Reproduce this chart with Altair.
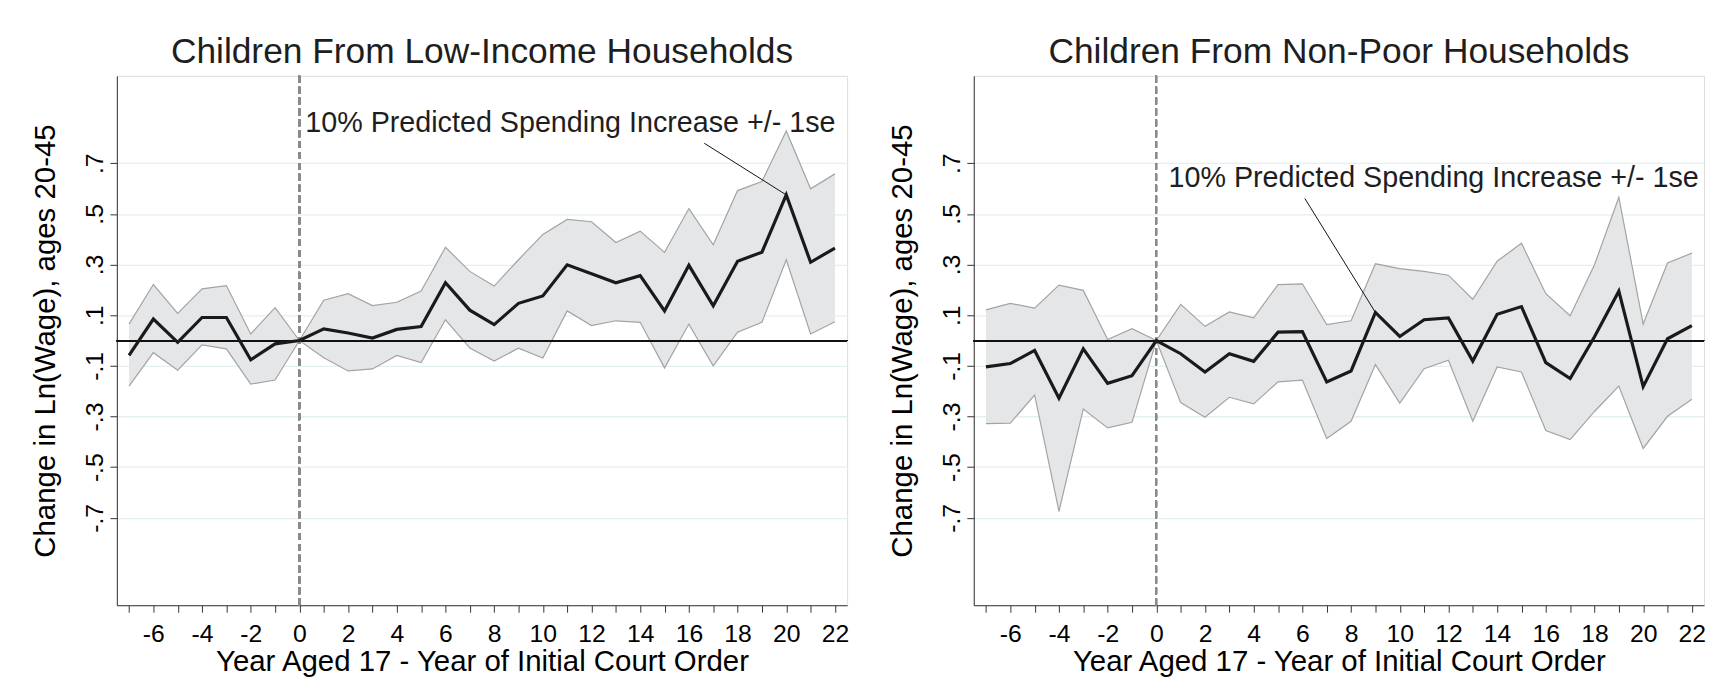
import altair as alt
import pandas as pd

# year aged 17 minus year of initial court order
years = list(range(-7, 23))

# children from low-income households
low_mean = [-0.059, 0.085, -0.007, 0.091, 0.091, -0.076, -0.013, 0.0, 0.046, 0.030,
            0.010, 0.044, 0.055, 0.228, 0.120, 0.063, 0.147, 0.176, 0.299, 0.264,
            0.228, 0.256, 0.117, 0.297, 0.137, 0.313, 0.349, 0.575, 0.309, 0.365]
low_upper = [0.065, 0.221, 0.107, 0.204, 0.217, 0.026, 0.130, 0.0, 0.159, 0.185,
             0.138, 0.151, 0.195, 0.368, 0.273, 0.215, 0.319, 0.419, 0.478, 0.469,
             0.387, 0.432, 0.348, 0.521, 0.378, 0.592, 0.628, 0.827, 0.599, 0.658]
low_lower = [-0.180, -0.048, -0.117, -0.017, -0.033, -0.172, -0.156, 0.0, -0.068, -0.120,
             -0.112, -0.059, -0.087, 0.082, -0.030, -0.081, -0.030, -0.069, 0.117, 0.059,
             0.078, 0.072, -0.108, 0.065, -0.100, 0.033, 0.072, 0.319, 0.026, 0.074]

# children from non-poor households
np_mean = [-0.104, -0.091, -0.039, -0.228, -0.033, -0.169, -0.139, 0.0, -0.052, -0.124,
           -0.052, -0.082, 0.033, 0.035, -0.163, -0.120, 0.111, 0.016, 0.082, 0.089,
           -0.081, 0.104, 0.134, -0.087, -0.150, 0.015, 0.195, -0.182, 0.007, 0.059]
np_upper = [0.121, 0.147, 0.128, 0.219, 0.198, 0.004, 0.047, 0.0, 0.143, 0.056,
            0.113, 0.090, 0.221, 0.224, 0.063, 0.078, 0.303, 0.284, 0.273, 0.258,
            0.163, 0.313, 0.384, 0.185, 0.098, 0.299, 0.566, 0.065, 0.306, 0.345]
np_lower = [-0.328, -0.326, -0.215, -0.674, -0.270, -0.345, -0.323, 0.0, -0.245, -0.303,
            -0.224, -0.250, -0.163, -0.156, -0.387, -0.319, -0.095, -0.247, -0.111, -0.078,
            -0.319, -0.104, -0.124, -0.355, -0.391, -0.280, -0.180, -0.426, -0.299, -0.232]

# annotation: text anchor, leader start, leader end (data units)
ann_label = "10% Predicted Spending Increase +/- 1se"
low_ann = [0.24, 0.824, 16.63, 0.779, 20, 0.575]
np_ann = [0.50, 0.606, 6.10, 0.561, 9, 0.111]

y_ticks = [-0.7, -0.5, -0.3, -0.1, 0.1, 0.3, 0.5, 0.7]

FONT = "Liberation Sans"
W, H = 738, 535

xscale = alt.Scale(domain=[-7.5, 22.5], nice=False, zero=False)
yscale = alt.Scale(domain=[-1.045, 1.045], nice=False, zero=False)
# tickCount above the number of values so vega keeps every yearly tick
xaxis = alt.Axis(values=years, tickCount=60, grid=False, tickSize=7, tickColor="#333", domainColor="#333",
                 labelExpr="datum.value % 2 == 0 ? '' + datum.value : ''", labelOverlap=False,
                 labelFlush=False, labelFontSize=25, labelBaseline="alphabetic", labelPadding=29.5,
                 title="Year Aged 17 - Year of Initial Court Order", titleFontSize=29.7,
                 titleFontWeight="normal", titleBaseline="alphabetic", titleY=66, titleX=W / 2)
yaxis = alt.Axis(values=y_ticks, tickCount=30, grid=True, gridColor="#e4eff1", gridWidth=1.3, tickSize=7,
                 tickColor="#333", domainColor="#333",
                 labelExpr="(datum.value < 0 ? '-' : '') + '.' + round(abs(datum.value) * 10)",
                 labelAngle=270, labelAlign="center", labelBaseline="middle", labelPadding=15,
                 labelFontSize=25, labelOverlap=False, labelFlush=False,
                 title="Change in Ln(Wage), ages 20-45", titleFontSize=29.7, titleFontWeight="normal",
                 titleX=-72, titleY=H / 2, titleBaseline="middle", titleAlign="center")


def panel(title, mean, upper, lower, ann):
    df = pd.DataFrame({"year": years, "mean": mean, "upper": upper, "lower": lower})
    adf = pd.DataFrame({"tx": [ann[0]], "ty": [ann[1]], "lx": [ann[2]], "ly": [ann[3]],
                        "px": [ann[4]], "py": [ann[5]], "label": [ann_label]})
    base = alt.Chart(df)
    x = alt.X("year:Q", scale=xscale, axis=xaxis)
    band = base.mark_area(color="#e5e6e8").encode(
        x=x, y=alt.Y("upper:Q", scale=yscale, axis=yaxis), y2="lower:Q")
    up = base.mark_line(color="#a3a3a3", strokeWidth=1.2).encode(
        x=x, y=alt.Y("upper:Q", scale=yscale, axis=yaxis))
    lo = base.mark_line(color="#a3a3a3", strokeWidth=1.2).encode(
        x=x, y=alt.Y("lower:Q", scale=yscale, axis=yaxis))
    zero = alt.Chart(df).mark_rule(color="#111", strokeWidth=1.2).encode(y=alt.datum(0))
    vline = alt.Chart(df).mark_rule(color="#8a8a8a", strokeWidth=1.4, strokeDash=[7, 4]).encode(
        x=alt.datum(0))
    line = base.mark_line(color="#1a1a1a", strokeWidth=3.2).encode(
        x=x, y=alt.Y("mean:Q", scale=yscale, axis=yaxis))
    lead = alt.Chart(adf).mark_rule(color="#111", strokeWidth=1).encode(
        x=alt.X("lx:Q", scale=xscale, axis=xaxis), x2="px:Q",
        y=alt.Y("ly:Q", scale=yscale, axis=yaxis), y2="py:Q")
    txt = alt.Chart(adf).mark_text(align="left", baseline="alphabetic", fontSize=29,
                                   font=FONT, color="#1e1e1e").encode(
        x=alt.X("tx:Q", scale=xscale, axis=xaxis), y=alt.Y("ty:Q", scale=yscale, axis=yaxis),
        text="label:N")
    return alt.layer(band, up, lo, zero, vline, line, lead, txt).properties(
        width=W, height=H,
        title=alt.TitleParams(title, fontSize=35.7, font=FONT, fontWeight="normal", color="#1e1e1e",
                              anchor="middle", frame="group", baseline="alphabetic", offset=-23))


left = panel("Children From Low-Income Households", low_mean, low_upper, low_lower, low_ann)
right = panel("Children From Non-Poor Households", np_mean, np_upper, np_lower, np_ann)

chart = alt.hconcat(left, right, spacing=128, bounds="flush").properties(
    padding={"left": 22, "top": 22, "right": 0, "bottom": 0}
).configure_view(stroke=None).configure_axis(
    labelFont=FONT, titleFont=FONT, labelColor="#1e1e1e", titleColor="#1e1e1e"
).configure(background="white")

chart.save("out.html", embed_options={"renderer": "svg", "actions": False})
